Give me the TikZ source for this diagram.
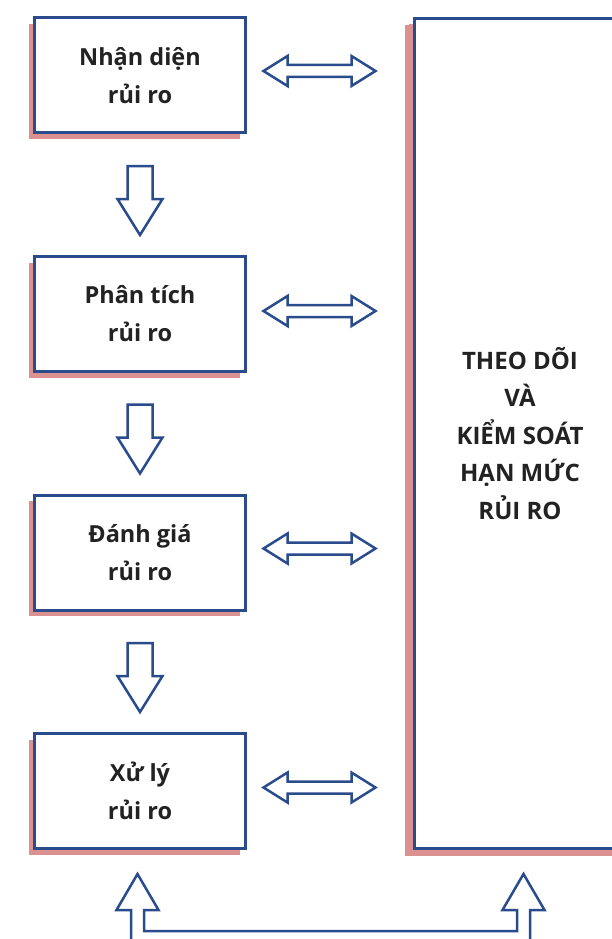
\documentclass[tikz,border=0pt]{standalone}
\usepackage{fontspec}
\setmainfont{Open Sans}
\usetikzlibrary{calc,shadows}

\definecolor{boxblue}{RGB}{42,76,140}
\definecolor{shadowpink}{RGB}{220,145,145}
\definecolor{textgray}{RGB}{34,34,34}

\tikzset{
  stepbox/.style={draw=boxblue, line width=3pt, fill=white, inner sep=0pt,
    minimum width=211pt, minimum height=115pt, align=center, text=textgray,
    font=\bfseries\fontsize{23.5}{38}\selectfont,
    drop shadow={shadow xshift=-6pt, shadow yshift=-6pt, fill=shadowpink, opacity=1}},
  bigbox/.style={stepbox, minimum height=830pt, font=\bfseries\fontsize{24}{37.5}\selectfont,
    drop shadow={shadow xshift=-10pt, shadow yshift=-7pt, fill=shadowpink, opacity=1}},
  arrowline/.style={draw=boxblue, line width=2.5pt, fill=white, line join=miter},
  downarr/.pic={\path[arrowline] (-12.5,0) -- (12.5,0) -- (12.5,33) -- (22.5,33)
    -- (0,69) -- (-22.5,33) -- (-12.5,33) -- cycle;},
  dblarr/.pic={\path[arrowline] (0,0) -- (24,-15) -- (24,-6) -- (88,-6) -- (88,-15)
    -- (112,0) -- (88,15) -- (88,6) -- (24,6) -- (24,15) -- cycle;}
}

\begin{document}
\begin{tikzpicture}[x=1pt,y=-1pt]
    \clip (0,0) rectangle (612,939);

    % the four steps
    \node[stepbox] (nhandien) at (140,75.5) {Nhận diện\\rủi ro};
    \node[stepbox] (phantich) at (140,314) {Phân tích\\rủi ro};
    \node[stepbox] (danhgia) at (140,552.5) {Đánh giá\\rủi ro};
    \node[stepbox] (xuly) at (140,791) {Xử lý\\rủi ro};

    % monitoring box
    \node[bigbox] (theodoi) at (520,433.5) {THEO DÕI\\VÀ\\KIỂM SOÁT\\HẠN MỨC\\RỦI RO};

    % down arrows
    \pic at ($(nhandien.south)+(0,31.5)$) {downarr};
    \pic at ($(phantich.south)+(0,31.5)$) {downarr};
    \pic at ($(danhgia.south)+(0,31.5)$) {downarr};

    % two-way arrows
    \pic at ($(nhandien.east)+(16.5,-4.5)$) {dblarr};
    \pic at ($(phantich.east)+(16.5,-3)$) {dblarr};
    \pic at ($(danhgia.east)+(16.5,-4)$) {dblarr};
    \pic at ($(xuly.east)+(16.5,-3.5)$) {dblarr};

    % loop back at the bottom
    \coordinate (lt) at ($(xuly.south)+(-2.5,24)$);
    \coordinate (rt) at ($(theodoi.south)+(3.5,24)$);
    \draw[arrowline, fill=none] ($(lt)+(-6.5,70)$) -- ($(lt)+(-6.5,36)$) -- ($(lt)+(-21,36)$)
      -- (lt) -- ($(lt)+(21,36)$) -- ($(lt)+(6.5,36)$) -- ($(lt)+(6.5,57)$)
      -- ($(rt)+(-6.5,57)$) -- ($(rt)+(-6.5,36)$) -- ($(rt)+(-21,36)$)
      -- (rt) -- ($(rt)+(21,36)$) -- ($(rt)+(6.5,36)$) -- ($(rt)+(6.5,70)$);
\end{tikzpicture}
\end{document}
